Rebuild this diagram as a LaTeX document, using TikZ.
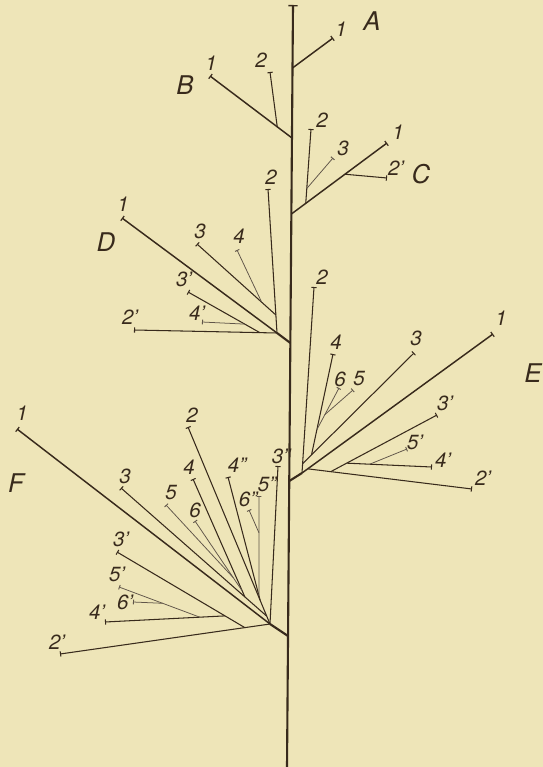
\documentclass[tikz,border=0pt]{standalone}
\usepackage{fontspec}
\setsansfont{TeX Gyre Heros}
\usepackage{xcolor}
\usetikzlibrary{arrows.meta, calc}
\definecolor{paper}{RGB}{238,229,184}
\definecolor{ink}{RGB}{56,42,28}
\tikzset{
  stalk/.style={draw=ink, line width=1.8pt},
  axis/.style={draw=ink, line width=1.25pt, -{Bar[width=5pt, line width=1pt]}},
  twig/.style={draw=ink, line width=0.9pt, -{Bar[width=4.5pt, line width=0.9pt]}},
  sprig/.style={draw=ink!80, line width=0.65pt, -{Bar[width=4pt, line width=0.8pt]}},
  lbl/.style={font=\sffamily\itshape\fontsize{17.5}{17.5}\selectfont, text=ink, inner sep=0pt},
  tag/.style={font=\sffamily\itshape\fontsize{22}{22}\selectfont, text=ink, inner sep=0pt},
}
\begin{document}
\begin{tikzpicture}[x=0.03cm, y=-0.03cm]
  \fill[paper] (0,0) rectangle (543,767);
  \useasboundingbox (0,0) rectangle (543,767);

  % main stem
  \coordinate (top) at (293,5);
  \coordinate (bot) at (287,767);
  \draw[stalk, -{Bar[width=8pt, line width=1.2pt]}] (bot) -- (top);

  % A
  \coordinate (a0) at (292.5,68);
  \coordinate (a1) at (333,38);
  \draw[axis] (a0) -- (a1);
  \node[lbl] (la1) at (341,29) {1};
  \node[tag] (lA) at (372,21) {A};

  % B
  \coordinate (b0) at (292,138);
  \coordinate (b1) at (210,76);
  \coordinate (b2) at (270,72);
  \coordinate (b2j) at ($(b0)!0.18!(b1)$);
  \draw[axis] (b0) -- (b1);
  \draw[twig] (b2j) -- (b2);
  \node[lbl] (lb1) at (211,63) {1};
  \node[lbl] (lb2) at (261,60) {2};
  \node[tag] (lB) at (185,85) {B};

  % C
  \coordinate (c0) at (291.4,214);
  \coordinate (c1) at (387,143);
  \coordinate (c2) at (311,129);
  \coordinate (c3) at (333,158);
  \coordinate (c2p) at (387,178);
  \coordinate (c2j) at ($(c0)!0.15!(c1)$);
  \coordinate (c3j) at ($(c2j)!0.2!(c2)$);
  \coordinate (c2pj) at ($(c0)!0.56!(c1)$);
  \draw[axis] (c0) -- (c1);
  \draw[twig] (c2j) -- (c2);
  \draw[sprig] (c3j) -- (c3);
  \draw[twig] (c2pj) -- (c2p);
  \node[lbl] (lc1) at (398,132) {1};
  \node[lbl] (lc2) at (322,120) {2};
  \node[lbl] (lc3) at (343,148) {3};
  \node[lbl] (lc2p) at (396,168) {2'};
  \node[tag] (lC) at (421,174) {C};

  % D
  \coordinate (d0) at (290.4,343);
  \coordinate (dj) at (277,333);
  \coordinate (d1) at (122,218);
  \coordinate (d2) at (268,189);
  \coordinate (d3) at (197,244);
  \coordinate (d4) at (237,250);
  \coordinate (d2p) at (134,330);
  \coordinate (d3p) at (188,292);
  \coordinate (d4p) at (202,322);
  \coordinate (d3j) at ($(dj)!0.125!(d2)$);
  \coordinate (d4j) at ($(d3j)!0.18!(d3)$);
  \coordinate (d3pj) at ($(dj)!0.12!(d2p)$);
  \coordinate (d4pj) at ($(d3pj)!0.21!(d3p)$);
  \draw[stalk] (d0) -- (dj);
  \draw[axis] (dj) -- (d1);
  \draw[twig] (dj) -- (d2);
  \draw[twig] (d3j) -- (d3);
  \draw[sprig] (d4j) -- (d4);
  \draw[twig] (dj) -- (d2p);
  \draw[twig] (d3pj) -- (d3p);
  \draw[sprig] (d4pj) -- (d4p);
  \node[lbl] (ld1) at (123,204) {1};
  \node[lbl] (ld2) at (271,177) {2};
  \node[lbl] (ld3) at (200,231) {3};
  \node[lbl] (ld4) at (239,236) {4};
  \node[lbl] (ld2p) at (130,317) {2'};
  \node[lbl] (ld3p) at (184,279) {3'};
  \node[lbl] (ld4p) at (197,313) {4'};
  \node[tag] (lD) at (106,242) {D};

  % E
  \coordinate (e0) at (289.3,481);
  \coordinate (ej) at (302,473);
  \coordinate (e1) at (493,334);
  \coordinate (e2) at (314,287);
  \coordinate (e3) at (414,353);
  \coordinate (e4) at (333,354);
  \coordinate (e5) at (353,390);
  \coordinate (e6) at (339,388);
  \coordinate (e2p) at (472,489);
  \coordinate (e3p) at (437,415);
  \coordinate (e4p) at (432,467);
  \coordinate (e5p) at (407,449);
  \coordinate (e3j) at ($(ej)!0.05!(e2)$);
  \coordinate (e4j) at ($(e3j)!0.08!(e3)$);
  \coordinate (e6j) at ($(e4j)!0.25!(e4)$);
  \coordinate (e5j) at ($(e6j)!0.36!(e6)$);
  \coordinate (e2pj) at ($(ej)!0.03!(e1)$);
  \coordinate (e3pj) at ($(e2pj)!0.14!(e2p)$);
  \coordinate (e4pj) at ($(e3pj)!0.15!(e3p)$);
  \coordinate (e5pj) at ($(e4pj)!0.27!(e4p)$);
  \draw[stalk] (e0) -- (ej);
  \draw[axis] (ej) -- (e1);
  \draw[twig] (ej) -- (e2);
  \draw[twig] (e3j) -- (e3);
  \draw[twig] (e4j) -- (e4);
  \draw[sprig] (e6j) -- (e6);
  \draw[sprig] (e5j) -- (e5);
  \draw[twig] (e2pj) -- (e2p);
  \draw[twig] (e3pj) -- (e3p);
  \draw[twig] (e4pj) -- (e4p);
  \draw[sprig] (e5pj) -- (e5p);
  \node[lbl] (le1) at (501,318) {1};
  \node[lbl] (le2) at (322,277) {2};
  \node[lbl] (le3) at (416,338) {3};
  \node[lbl] (le4) at (336,342) {4};
  \node[lbl] (le5) at (359,379) {5};
  \node[lbl] (le6) at (340,379) {6};
  \node[lbl] (le2p) at (483,478) {2'};
  \node[lbl] (le3p) at (445,403) {3'};
  \node[lbl] (le4p) at (443,460) {4'};
  \node[lbl] (le5p) at (415,442) {5'};
  \node[tag] (lE) at (533,373) {E};

  % F
  \coordinate (f0) at (288,636);
  \coordinate (fj) at (270,624);
  \coordinate (f1) at (17,429);
  \coordinate (f2) at (188,427);
  \coordinate (f3) at (121,488);
  \coordinate (f4) at (193,479);
  \coordinate (f5) at (166,505);
  \coordinate (f6) at (195,521);
  \coordinate (f3pp) at (278,466);
  \coordinate (f4pp) at (228,477);
  \coordinate (f5pp) at (259,496);
  \coordinate (f6pp) at (249,510);
  \coordinate (f2p) at (60,654);
  \coordinate (f3p) at (117,552);
  \coordinate (f4p) at (105,622);
  \coordinate (f5p) at (119,587);
  \coordinate (f6p) at (133,602);
  \coordinate (f3j) at ($(fj)!0.04!(f2)$);
  \coordinate (fh) at ($(f3j)!0.15!(f3)$);
  \coordinate (f6j) at ($(fh)!0.05!(f4)$);
  \coordinate (f5j) at ($(f6j)!0.19!(f6)$);
  \coordinate (f4ppj) at ($(fj)!0.12!(f2)$);
  \coordinate (f5ppj) at ($(f4ppj)!0.04!(f4pp)$);
  \coordinate (f6ppj) at ($(f5ppj)!0.63!(f5pp)$);
  \coordinate (f3pj) at ($(fj)!0.12!(f2p)$);
  \coordinate (f4pj) at ($(f3pj)!0.155!(f3p)$);
  \coordinate (f5pj) at ($(f4pj)!0.21!(f4p)$);
  \coordinate (f6pj) at ($(f5pj)!0.46!(f5p)$);
  \draw[stalk] (f0) -- (fj);
  \draw[axis] (fj) -- (f1);
  \draw[twig] (fj) -- (f2);
  \draw[twig] (f3j) -- (f3);
  \draw[twig] (fh) -- (f4);
  \draw[sprig] (f6j) -- (f6);
  \draw[sprig] (f5j) -- (f5);
  \draw[twig] (fj) -- (f3pp);
  \draw[twig] (f4ppj) -- (f4pp);
  \draw[sprig] (f5ppj) -- (f5pp);
  \draw[sprig] (f6ppj) -- (f6pp);
  \draw[twig] (fj) -- (f2p);
  \draw[twig] (f3pj) -- (f3p);
  \draw[twig] (f4pj) -- (f4p);
  \draw[sprig] (f5pj) -- (f5p);
  \draw[sprig] (f6pj) -- (f6p);
  \node[lbl] (lf1) at (22,413) {1};
  \node[lbl] (lf2) at (192,415) {2};
  \node[lbl] (lf3) at (125,476) {3};
  \node[lbl] (lf4) at (189,467) {4};
  \node[lbl] (lf5) at (171,493) {5};
  \node[lbl] (lf6) at (195,510) {6};
  \node[lbl] (lf3pp) at (281,456) {3''};
  \node[lbl] (lf4pp) at (237,465) {4''};
  \node[lbl] (lf5pp) at (267,484) {5''};
  \node[lbl] (lf6pp) at (248,499) {6''};
  \node[lbl] (lf2p) at (57,642) {2'};
  \node[lbl] (lf3p) at (121,539) {3'};
  \node[lbl] (lf4p) at (97,612) {4'};
  \node[lbl] (lf5p) at (117,574) {5'};
  \node[lbl] (lf6p) at (125,602) {6'};
  \node[tag] (lF) at (16,483) {F};
\end{tikzpicture}
\end{document}
